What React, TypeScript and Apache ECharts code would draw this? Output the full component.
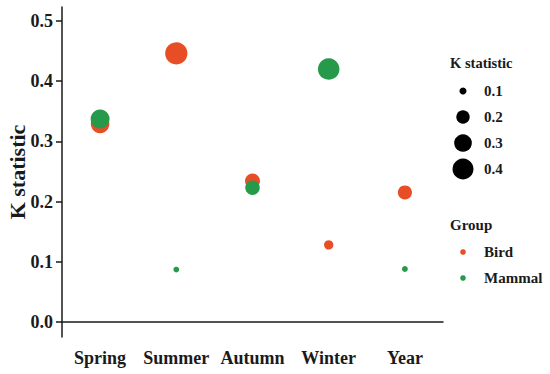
import React, { useEffect, useRef } from "react";
import * as echarts from "echarts";

const categories = ["Spring", "Summer", "Autumn", "Winter", "Year"];
const birdValues = [0.329, 0.446, 0.234, 0.128, 0.215];
const mammalValues = [0.337, 0.087, 0.223, 0.42, 0.088];
const yTickValues = [0, 0.1, 0.2, 0.3, 0.4, 0.5];
const sizeLegendValues = [0.1, 0.2, 0.3, 0.4];
const groupNames = ["Bird", "Mammal"];

const BIRD = "#E84E26";
const MAMMAL = "#26994A";
const groupColors = [BIRD, MAMMAL];
const INK = "#1a1a1a";
const FONT = "Liberation Serif";

const sizeOf = (v: number) => Math.sqrt(Math.max(1300 * v - 80, 16));

export default function App() {
  const ref = useRef<HTMLDivElement>(null);
  useEffect(() => {
    if (!ref.current) return;
    const chart = echarts.init(ref.current, null, { renderer: "svg" });
    const legendEls: any[] = [];
    sizeLegendValues.forEach((v, i) => {
      const cy = 91 + i * 26;
      legendEls.push({
        type: "circle",
        shape: { cx: 463, cy, r: sizeOf(v) / 2 },
        style: { fill: "#000" },
      });
      legendEls.push({
        type: "text",
        x: 484,
        y: cy,
        style: {
          text: v.toFixed(1),
          font: `bold 15px "${FONT}"`,
          fill: INK,
          verticalAlign: "middle",
        },
      });
    });
    groupNames.forEach((g, i) => {
      const cy = 252 + i * 26;
      legendEls.push({
        type: "circle",
        shape: { cx: 463, cy, r: 2.8 },
        style: { fill: groupColors[i] },
      });
      legendEls.push({
        type: "text",
        x: 484,
        y: cy,
        style: {
          text: g,
          font: `bold 15px "${FONT}"`,
          fill: INK,
          verticalAlign: "middle",
        },
      });
    });
    chart.setOption({
      animation: false,
      grid: { left: 62, right: 107, top: 7, bottom: 37, outerBoundsMode: "none", containLabel: false },
      xAxis: {
        type: "category",
        data: categories,
        boundaryGap: true,
        axisLine: { lineStyle: { color: INK, width: 1.5 } },
        axisTick: { alignWithLabel: true, length: 6, lineStyle: { color: INK, width: 1.5 } },
        axisLabel: {
          interval: 0,
          color: INK,
          fontFamily: FONT,
          fontWeight: "bold",
          fontSize: 18,
          margin: 12,
        },
        splitLine: { show: false },
      },
      yAxis: {
        type: "value",
        min: -0.025,
        max: 0.523,
        name: "K statistic",
        nameLocation: "middle",
        nameGap: 34,
        nameMoveOverlap: false,
        nameTextStyle: {
          color: INK,
          fontFamily: FONT,
          fontWeight: "bold",
          fontSize: 22,
        },
        axisLine: { show: true, lineStyle: { color: INK, width: 1.5 } },
        axisTick: {
          show: true,
          length: 6,
          customValues: yTickValues,
          lineStyle: { color: INK, width: 1.5 },
        },
        axisLabel: {
          color: INK,
          fontFamily: FONT,
          fontWeight: "bold",
          fontSize: 18,
          margin: 9,
          customValues: yTickValues,
          formatter: (v: number) => v.toFixed(1),
        },
        splitLine: { show: false },
      },
      graphic: [
        {
          type: "text",
          x: 450,
          y: 63,
          style: {
            text: "K statistic",
            font: `bold 14.5px "${FONT}"`,
            fill: INK,
            verticalAlign: "middle",
          },
        },
        {
          type: "text",
          x: 450,
          y: 225,
          style: {
            text: "Group",
            font: `bold 15px "${FONT}"`,
            fill: INK,
            verticalAlign: "middle",
          },
        },
        ...legendEls,
      ],
      series: [
        {
          name: groupNames[0],
          type: "scatter",
          data: birdValues.map((v, i) => [categories[i], v]),
          symbolSize: (d: any) => sizeOf(d[1]),
          itemStyle: { color: BIRD, opacity: 1 },
        },
        {
          name: groupNames[1],
          type: "scatter",
          data: mammalValues.map((v, i) => [categories[i], v]),
          symbolSize: (d: any) => sizeOf(d[1]),
          itemStyle: { color: MAMMAL, opacity: 1 },
        },
      ],
    });
    return () => chart.dispose();
  }, []);
  return <div ref={ref} style={{ width: 550, height: 374, position: "absolute", left: 0, top: 0 }} />;
}
